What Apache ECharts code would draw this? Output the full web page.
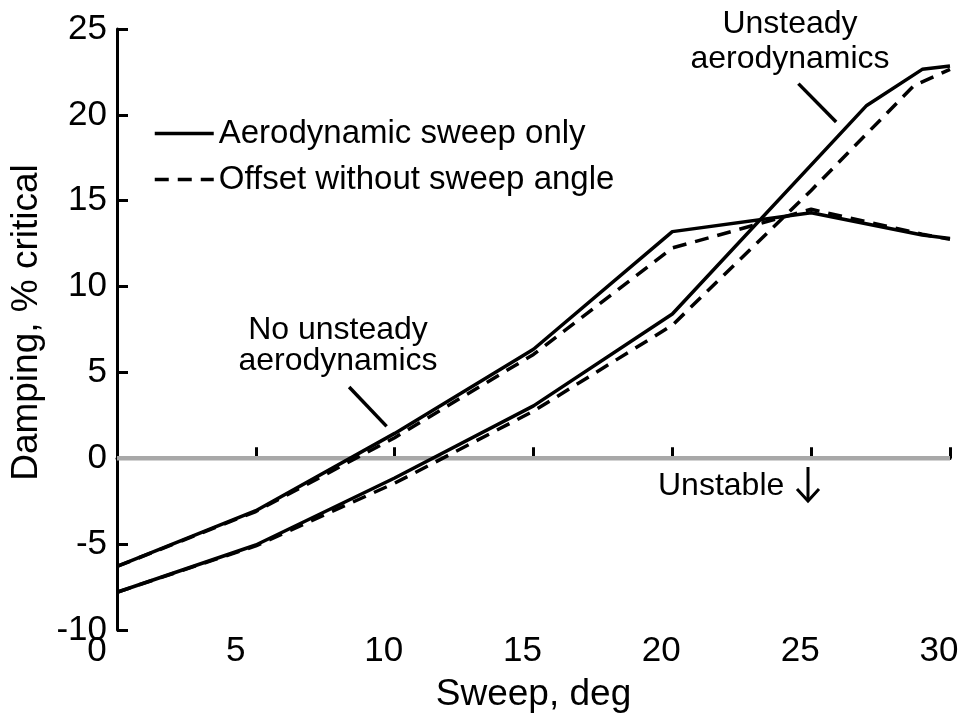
<!DOCTYPE html>
<html>
<head>
<meta charset="utf-8">
<title>Damping vs sweep</title>
<script src="https://cdn.jsdelivr.net/npm/echarts@6/dist/echarts.min.js"></script>
<style>
    html, body { margin: 0; padding: 0; background: #fff; }
    #chart { width: 962px; height: 719px; }
</style>
</head>
<body>
<div id="chart"></div>
<script>
    // sweep angle, deg
    var sweepNoUnsteady = [0, 5, 10, 15, 20, 25, 29, 30];
    var sweepNoUnsteadyOffset = [0, 5, 10, 15, 20, 25, 29, 30];
    var sweepUnsteady = [0, 5, 10, 15, 20, 27, 29, 30];
    var sweepUnsteadyOffset = [0, 5, 10, 15, 20, 25, 28.7, 30];

    // damping, % critical
    var dampNoUnsteady = [-6.3, -3.05, 1.45, 6.35, 13.2, 14.3, 13.0, 12.8];
    var dampNoUnsteadyOffset = [-6.3, -3.1, 1.2, 6.05, 12.25, 14.5, 13.05, 12.75];
    var dampUnsteady = [-7.8, -5.05, -1.15, 3.05, 8.4, 20.55, 22.65, 22.85];
    var dampUnsteadyOffset = [-7.8, -5.1, -1.45, 2.75, 7.75, 15.6, 21.7, 22.65];

    var xTicks = [0, 5, 10, 15, 20, 25, 30];
    var yTicks = [-10, -5, 0, 5, 10, 15, 20, 25];

    var legendNames = ['Aerodynamic sweep only', 'Offset without sweep angle'];

    // stability boundary and the two callout strokes (data coords)
    var zeroLine = [[0, 0], [30, 0]];
    var calloutNoUnsteady = [[8.36, 4.15], [9.71, 1.86]];
    var calloutUnsteady = [[24.54, 21.82], [25.9, 19.59]];

    function pairs(xs, ys) {
        var out = [];
        for (var i = 0; i < xs.length; i++) {
            out.push([xs[i], ys[i]]);
        }
        return out;
    }

    var font = 'Liberation Sans, Arial, Helvetica, sans-serif';

    function curve(name, xs, ys, dashed) {
        return {
            name: name,
            type: 'line',
            data: pairs(xs, ys),
            symbol: 'none',
            silent: true,
            z: 3,
            color: '#000',
            lineStyle: {
                color: '#000',
                width: 3.5,
                type: dashed ? [14, 9] : 'solid'
            }
        };
    }

    function stroke(data, color, width) {
        return {
            type: 'line',
            data: data,
            symbol: 'none',
            silent: true,
            z: 2,
            lineStyle: { color: color, width: width }
        };
    }

    var chart = echarts.init(document.getElementById('chart'), null, { renderer: 'canvas' });

    var option = {
        backgroundColor: '#fff',
        animation: false,
        grid: { left: 117, right: 12, top: 29, bottom: 89 },
        legend: {
            data: legendNames,
            orient: 'vertical',
            left: 148,
            top: 112,
            itemWidth: 59,
            itemHeight: 16,
            itemGap: 13,
            selectedMode: false,
            itemStyle: { opacity: 0 },
            lineStyle: { width: 3.5 },
            textStyle: { fontFamily: font, fontSize: 33, color: '#000' }
        },
        xAxis: {
            type: 'value',
            min: 0,
            max: 30,
            interval: 5,
            name: 'Sweep, deg',
            nameLocation: 'middle',
            nameGap: 46,
            nameTextStyle: { fontFamily: font, fontSize: 37, color: '#000' },
            axisLine: { lineStyle: { color: '#000', width: 3 } },
            axisTick: { inside: true, length: 11, lineStyle: { color: '#000', width: 3 } },
            axisLabel: {
                fontFamily: font, fontSize: 35, color: '#000', margin: 4,
                // labels sit a little left of their ticks, single digits more so
                formatter: function (v) {
                    if (xTicks.indexOf(v) < 0) return '';
                    return (v < 10 ? '{one|' : '{two|') + v + '}';
                },
                rich: {
                    one: { fontFamily: font, fontSize: 35, color: '#000', padding: [0, 40, 0, 0] },
                    two: { fontFamily: font, fontSize: 35, color: '#000', padding: [0, 22, 0, 0] }
                }
            },
            splitLine: { show: false }
        },
        yAxis: {
            type: 'value',
            min: -10,
            max: 25,
            interval: 5,
            name: 'Damping, % critical',
            nameLocation: 'middle',
            nameGap: 64,
            nameTextStyle: { fontFamily: font, fontSize: 37, color: '#000', padding: [0, 0, 0, 14] },
            axisLine: { lineStyle: { color: '#000', width: 3 } },
            axisTick: { inside: true, length: 11, lineStyle: { color: '#000', width: 3 } },
            axisLabel: {
                fontFamily: font, fontSize: 35, color: '#000', margin: 10,
                padding: [0, 0, 34, 0],
                formatter: function (v) { return yTicks.indexOf(v) >= 0 ? String(v) : ''; }
            },
            splitLine: { show: false }
        },
        graphic: [
            { type: 'text', x: 790, y: 24, style: { text: 'Unsteady', font: '32px ' + font, fill: '#000', textAlign: 'center', textVerticalAlign: 'middle' } },
            { type: 'text', x: 790, y: 59, style: { text: 'aerodynamics', font: '32px ' + font, fill: '#000', textAlign: 'center', textVerticalAlign: 'middle' } },
            { type: 'text', x: 338, y: 330, style: { text: 'No unsteady', font: '32px ' + font, fill: '#000', textAlign: 'center', textVerticalAlign: 'middle' } },
            { type: 'text', x: 338, y: 361, style: { text: 'aerodynamics', font: '32px ' + font, fill: '#000', textAlign: 'center', textVerticalAlign: 'middle' } },
            { type: 'text', x: 658, y: 486, style: { text: 'Unstable', font: '32px ' + font, fill: '#000', textAlign: 'left', textVerticalAlign: 'middle' } },
            // down arrow next to "Unstable"
            { type: 'line', shape: { x1: 808, y1: 467, x2: 808, y2: 500 }, style: { stroke: '#000', lineWidth: 3 } },
            { type: 'polyline', shape: { points: [[797, 489], [808, 501], [819, 489]] }, style: { stroke: '#000', lineWidth: 3, fill: null } }
        ],
        series: [
            {
                type: 'line',
                data: zeroLine,
                symbol: 'none',
                silent: true,
                z: 1,
                lineStyle: { color: '#a8a8a8', width: 4.5 }
            },
            stroke(calloutNoUnsteady, '#000', 3.5),
            stroke(calloutUnsteady, '#000', 3.5),
            curve(legendNames[0], sweepNoUnsteady, dampNoUnsteady, false),
            curve(legendNames[1], sweepNoUnsteadyOffset, dampNoUnsteadyOffset, true),
            curve(legendNames[0], sweepUnsteady, dampUnsteady, false),
            curve(legendNames[1], sweepUnsteadyOffset, dampUnsteadyOffset, true)
        ]
    };

    chart.setOption(option);
</script>
</body>
</html>
